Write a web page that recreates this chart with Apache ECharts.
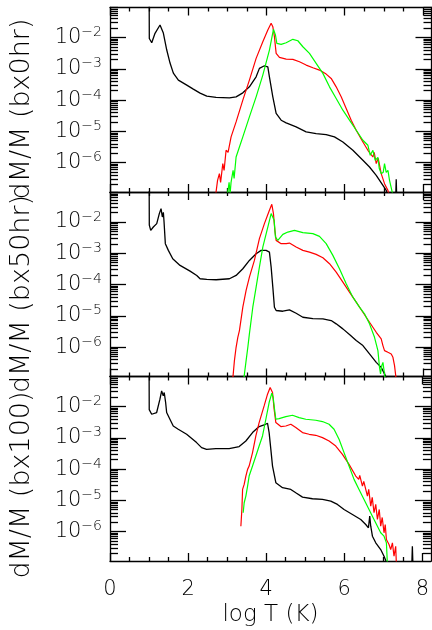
<!DOCTYPE html>
<html>
<head>
<meta charset="utf-8">
<script src="https://cdn.jsdelivr.net/npm/echarts@6/dist/echarts.min.js"></script>
<style>
  html, body { margin: 0; padding: 0; background: #fff; }
  #chart { width: 432px; height: 630px; }
</style>
</head>
<body>
<div id="chart"></div>
<script>
// Differential emission measure curves: [log T (K), log10(dM/M)] pairs.
// Run bx0hr
const bx0hr_black = [[1.0,-0.3],[1.005,-2.03],[1.067,-2.167],[1.151,-1.866],[1.279,-1.60],[1.364,-1.856],[1.451,-2.40],[1.535,-2.817],[1.62,-3.138],[1.748,-3.362],[1.963,-3.522],[2.13,-3.65],[2.303,-3.779],[2.474,-3.875],[2.712,-3.917],[3.053,-3.93],[3.224,-3.897],[3.396,-3.769],[3.564,-3.577],[3.736,-3.256],[3.82,-2.987],[3.948,-2.904],[4.035,-2.936],[4.076,-3.256],[4.163,-3.897],[4.248,-4.429],[4.376,-4.644],[4.504,-4.731],[4.759,-4.859],[5.015,-5.019],[5.271,-5.07],[5.527,-5.103],[5.739,-5.179],[5.954,-5.34],[6.21,-5.606],[6.466,-5.926],[6.635,-6.141],[6.807,-6.407],[6.978,-6.728],[7.062,-6.888],[7.16,-7.2],[7.30,-7.3],[7.318,-6.53],[7.335,-7.3]];
const bx0hr_red = [[2.70,-7.05],[2.75,-6.567],[2.797,-6.353],[2.828,-6.63],[2.884,-6.032],[2.917,-6.247],[2.968,-5.606],[3.019,-5.67],[3.096,-5.179],[3.224,-4.699],[3.396,-4.003],[3.564,-3.362],[3.736,-2.667],[3.907,-2.135],[4.035,-1.76],[4.12,-1.545],[4.163,-1.654],[4.204,-1.974],[4.248,-2.506],[4.332,-2.635],[4.504,-2.689],[4.675,-2.699],[4.844,-2.776],[5.015,-2.881],[5.187,-2.968],[5.356,-3.042],[5.527,-3.17],[5.655,-3.308],[5.783,-3.577],[5.911,-3.897],[6.039,-4.269],[6.167,-4.644],[6.295,-4.965],[6.466,-5.34],[6.594,-5.606],[6.722,-5.821],[6.755,-5.67],[6.807,-6.032],[6.858,-5.862],[6.934,-6.353],[7.019,-6.673],[7.106,-6.888],[7.14,-7.05]];
const bx0hr_green = [[3.0,-7.05],[3.045,-6.63],[3.07,-7.0],[3.096,-6.622],[3.147,-6.247],[3.173,-6.503],[3.224,-5.821],[3.309,-5.5],[3.396,-5.179],[3.564,-4.538],[3.736,-3.897],[3.907,-3.202],[4.076,-2.401],[4.179,-1.737],[4.23,-1.92],[4.266,-2.186],[4.376,-2.218],[4.504,-2.167],[4.675,-2.058],[4.803,-2.103],[4.931,-2.295],[5.1,-2.506],[5.271,-2.827],[5.443,-3.147],[5.612,-3.577],[5.783,-3.949],[5.954,-4.324],[6.123,-4.644],[6.295,-4.965],[6.466,-5.285],[6.594,-5.446],[6.653,-5.766],[6.722,-5.606],[6.781,-5.926],[6.85,-5.83],[6.883,-6.18],[6.934,-6.353],[6.986,-6.311],[7.019,-6.032],[7.062,-6.311],[7.106,-6.247],[7.147,-6.567],[7.216,-6.942],[7.24,-7.05]];

// Run bx50hr
const bx50hr_black = [[1.0,-0.3],[1.005,-2.1],[1.041,-2.266],[1.108,-2.16],[1.195,-2.051],[1.261,-1.731],[1.305,-1.571],[1.338,-1.84],[1.364,-1.69],[1.382,-2.0],[1.415,-2.692],[1.492,-2.907],[1.604,-3.173],[1.791,-3.388],[2.047,-3.571],[2.218,-3.708],[2.303,-3.814],[2.474,-3.837],[2.712,-3.846],[3.053,-3.814],[3.224,-3.708],[3.396,-3.494],[3.564,-3.228],[3.736,-3.013],[3.864,-2.907],[3.992,-2.907],[4.076,-2.962],[4.12,-3.442],[4.163,-4.083],[4.204,-4.724],[4.248,-4.83],[4.419,-4.853],[4.588,-4.808],[4.759,-4.917],[4.931,-5.045],[5.187,-5.087],[5.443,-5.096],[5.655,-5.151],[5.783,-5.256],[5.954,-5.417],[6.123,-5.599],[6.295,-5.792],[6.466,-5.952],[6.635,-6.218],[6.807,-6.487],[6.934,-6.647],[7.019,-6.859],[7.062,-6.968],[7.11,-7.07]];
const bx50hr_red = [[3.137,-7.05],[3.181,-6.433],[3.224,-6.006],[3.268,-5.686],[3.309,-5.471],[3.396,-4.724],[3.48,-4.189],[3.564,-3.763],[3.692,-3.228],[3.82,-2.532],[3.948,-2.051],[4.076,-1.625],[4.137,-1.433],[4.179,-1.731],[4.215,-2.266],[4.248,-2.587],[4.376,-2.692],[4.504,-2.692],[4.588,-2.673],[4.759,-2.801],[4.931,-2.907],[5.1,-2.962],[5.271,-3.035],[5.443,-3.141],[5.612,-3.333],[5.783,-3.603],[5.954,-3.923],[6.123,-4.244],[6.295,-4.564],[6.466,-4.885],[6.635,-5.205],[6.807,-5.526],[6.934,-5.737],[6.978,-5.952],[7.019,-6.112],[7.106,-6.167],[7.19,-6.218],[7.234,-6.327],[7.275,-6.593],[7.318,-7.05]];
const bx50hr_green = [[3.42,-7.05],[3.437,-6.859],[3.48,-6.433],[3.524,-6.006],[3.564,-5.577],[3.651,-4.724],[3.736,-4.083],[3.82,-3.442],[3.907,-2.801],[4.035,-2.16],[4.12,-1.731],[4.163,-1.679],[4.197,-1.946],[4.23,-2.481],[4.291,-2.587],[4.419,-2.394],[4.547,-2.321],[4.716,-2.266],[4.931,-2.34],[5.187,-2.372],[5.356,-2.458],[5.527,-2.692],[5.698,-3.067],[5.867,-3.494],[6.039,-3.974],[6.21,-4.404],[6.379,-4.724],[6.507,-4.936],[6.635,-5.256],[6.763,-5.686],[6.85,-6.112],[6.891,-6.647],[6.917,-6.859],[6.948,-6.593],[6.978,-6.487],[7.019,-6.859],[7.037,-7.07]];

// Run bx100
const bx100_black = [[1.0,-0.3],[1.005,-2.1],[1.067,-2.247],[1.108,-2.301],[1.195,-2.192],[1.279,-1.766],[1.323,-1.5],[1.364,-1.66],[1.389,-1.551],[1.425,-1.872],[1.451,-2.192],[1.535,-2.407],[1.62,-2.622],[1.748,-2.728],[1.963,-2.888],[2.218,-3.154],[2.346,-3.314],[2.474,-3.369],[2.712,-3.346],[3.053,-3.346],[3.309,-3.282],[3.48,-3.103],[3.651,-2.833],[3.82,-2.641],[3.948,-2.59],[4.035,-2.535],[4.076,-2.833],[4.12,-3.369],[4.163,-3.904],[4.248,-4.436],[4.419,-4.596],[4.632,-4.651],[4.759,-4.756],[4.931,-4.897],[5.187,-4.949],[5.443,-4.971],[5.655,-5.026],[5.826,-5.131],[5.995,-5.292],[6.21,-5.452],[6.423,-5.612],[6.551,-5.772],[6.62,-5.878],[6.653,-5.506],[6.679,-5.827],[6.722,-6.147],[6.807,-6.359],[6.934,-6.574],[7.019,-6.788],[7.106,-7.05],[7.73,-7.1],[7.745,-6.47],[7.76,-7.1]];
const bx100_red = [[3.352,-5.827],[3.378,-5.292],[3.396,-4.651],[3.437,-4.49],[3.48,-4.224],[3.524,-4.01],[3.564,-3.904],[3.651,-3.474],[3.736,-2.942],[3.82,-2.513],[3.948,-1.981],[4.035,-1.606],[4.102,-1.391],[4.163,-1.551],[4.204,-2.087],[4.248,-2.513],[4.376,-2.641],[4.504,-2.622],[4.632,-2.567],[4.759,-2.673],[4.931,-2.833],[5.1,-2.888],[5.271,-2.92],[5.443,-2.994],[5.612,-3.103],[5.783,-3.263],[5.954,-3.529],[6.123,-3.849],[6.295,-4.224],[6.372,-4.33],[6.397,-4.2],[6.466,-4.545],[6.5,-4.394],[6.594,-4.865],[6.627,-4.651],[6.679,-5.186],[6.717,-4.907],[6.763,-5.397],[6.807,-5.131],[6.85,-5.612],[6.897,-5.292],[6.934,-5.827],[6.973,-5.548],[7.019,-6.038],[7.05,-5.772],[7.08,-6.253],[7.147,-6.413],[7.19,-6.574],[7.234,-6.359],[7.275,-6.788],[7.318,-6.468],[7.336,-7.05]];
const bx100_green = [[3.411,-5.397],[3.437,-5.077],[3.48,-4.865],[3.524,-4.545],[3.564,-4.224],[3.651,-3.904],[3.736,-3.583],[3.82,-3.263],[3.907,-2.942],[3.992,-2.407],[4.076,-1.872],[4.145,-1.574],[4.179,-1.712],[4.215,-2.087],[4.248,-2.407],[4.332,-2.385],[4.504,-2.321],[4.675,-2.279],[4.844,-2.353],[5.015,-2.407],[5.271,-2.439],[5.443,-2.481],[5.612,-2.567],[5.739,-2.728],[5.867,-3.048],[5.995,-3.474],[6.123,-3.904],[6.251,-4.33],[6.379,-4.651],[6.507,-4.971],[6.635,-5.292],[6.763,-5.612],[6.85,-5.827],[6.934,-6.038],[7.019,-6.147],[7.08,-6.359],[7.106,-7.05]];

// Panel titles and tick positions
const panelTitles = ['dM/M (bx0hr)', 'dM/M (bx50hr)', 'dM/M (bx100)'];
const panelCurves = [
  [bx0hr_black, bx0hr_red, bx0hr_green],
  [bx50hr_black, bx50hr_red, bx50hr_green],
  [bx100_black, bx100_red, bx100_green]
];
const curveColors = ['#000000', '#ff0000', '#00ff00'];
const xMajorTicks = [0, 2, 4, 6, 8];
const xMinorTicks = [0.5, 1, 1.5, 2.5, 3, 3.5, 4.5, 5, 5.5, 6.5, 7, 7.5];
const yDecades = [-6, -5, -4, -3, -2];

const X_MIN = 0, X_MAX = 8.22;
const Y_MIN = -6.94, Y_MAX = -1.04;
const FONT = 'DejaVu Sans';
const FONT_WEIGHT = 200;

// log-spaced minor ticks (2..9 x 10^n) inside the y range
const yMinorTicks = [];
for (let n = -7; n <= -2; n++) {
  for (let k = 2; k <= 9; k++) {
    const v = n + Math.log10(k);
    if (v > Y_MIN && v < Y_MAX) yMinorTicks.push(v);
  }
}

const panelTop = [7.5, 192, 376.5];
const panelHeight = 184.5;
const frame = { color: '#000', width: 1.3 };

const grid = [], xAxis = [], yAxis = [], series = [];

panelTop.forEach((top, g) => {
  grid.push({ left: 110, top: top, width: 321.5, height: panelHeight });
  const last = g === panelTop.length - 1;

  const xBase = {
    gridIndex: g, type: 'value', min: X_MIN, max: X_MAX,
    splitLine: { show: false },
    axisLine: { show: true, onZero: false, lineStyle: frame },
    axisLabel: { show: false }
  };
  // bottom major (with labels on the last panel), bottom minor, top major, top minor
  xAxis.push(Object.assign({}, xBase, {
    position: 'bottom',
    axisTick: { inside: true, length: 8, customValues: xMajorTicks, lineStyle: frame },
    axisLabel: {
      show: last, customValues: xMajorTicks, margin: 18,
      fontFamily: FONT, fontWeight: FONT_WEIGHT, fontSize: 21, color: '#000'
    },
    name: last ? 'log T (K)' : '',
    nameLocation: 'middle', nameGap: 43,
    nameTextStyle: { fontFamily: FONT, fontWeight: FONT_WEIGHT, fontSize: 23, color: '#000' }
  }));
  xAxis.push(Object.assign({}, xBase, {
    position: 'bottom', axisLine: { show: false, onZero: false },
    axisTick: { inside: true, length: 4, customValues: xMinorTicks, lineStyle: frame }
  }));
  xAxis.push(Object.assign({}, xBase, {
    position: 'top',
    axisTick: { inside: true, length: 8, customValues: xMajorTicks, lineStyle: frame }
  }));
  xAxis.push(Object.assign({}, xBase, {
    position: 'top', axisLine: { show: false, onZero: false },
    axisTick: { inside: true, length: 4, customValues: xMinorTicks, lineStyle: frame }
  }));

  const yBase = {
    gridIndex: g, type: 'value', min: Y_MIN, max: Y_MAX,
    splitLine: { show: false },
    axisLine: { show: true, onZero: false, lineStyle: frame },
    axisLabel: { show: false }
  };
  yAxis.push(Object.assign({}, yBase, {
    position: 'left',
    axisTick: { inside: true, length: 16, customValues: yDecades, lineStyle: frame },
    axisLabel: {
      show: true, customValues: yDecades, margin: 8,
      formatter: v => '{b|10}{s|\u2212' + Math.round(-v) + '}',
      rich: {
        b: { fontFamily: FONT, fontWeight: FONT_WEIGHT, fontSize: 21, lineHeight: 24, color: '#000' },
        s: { fontFamily: FONT, fontWeight: FONT_WEIGHT, fontSize: 14, lineHeight: 14, verticalAlign: 'top', color: '#000' }
      }
    }
  }));
  yAxis.push(Object.assign({}, yBase, {
    position: 'left', axisLine: { show: false, onZero: false },
    axisTick: { inside: true, length: 8, customValues: yMinorTicks, lineStyle: frame }
  }));
  yAxis.push(Object.assign({}, yBase, {
    position: 'right',
    axisTick: { inside: true, length: 16, customValues: yDecades, lineStyle: frame }
  }));
  yAxis.push(Object.assign({}, yBase, {
    position: 'right', axisLine: { show: false, onZero: false },
    axisTick: { inside: true, length: 8, customValues: yMinorTicks, lineStyle: frame }
  }));

  panelCurves[g].forEach((curve, i) => {
    series.push({
      type: 'line', xAxisIndex: g * 4, yAxisIndex: g * 4,
      data: curve, showSymbol: false, symbol: 'none', clip: true,
      lineStyle: { color: curveColors[i], width: i === 0 ? 1.3 : 1.2 },
      z: 2 + i, silent: true
    });
  });
});

// Rotated y titles, one per panel
const titleCenters = [109, 294, 485];
const graphic = panelTitles.map((t, g) => ({
  type: 'text', x: 22, y: titleCenters[g], rotation: Math.PI / 2,
  style: {
    text: t, fontFamily: FONT, fontWeight: FONT_WEIGHT, fontSize: 27, fill: '#000',
    align: 'center', verticalAlign: 'middle'
  }
}));

const chart = echarts.init(document.getElementById('chart'), null, { renderer: 'canvas' });
chart.setOption({
  animation: false,
  backgroundColor: '#fff',
  grid, xAxis, yAxis, series, graphic
});
</script>
</body>
</html>
